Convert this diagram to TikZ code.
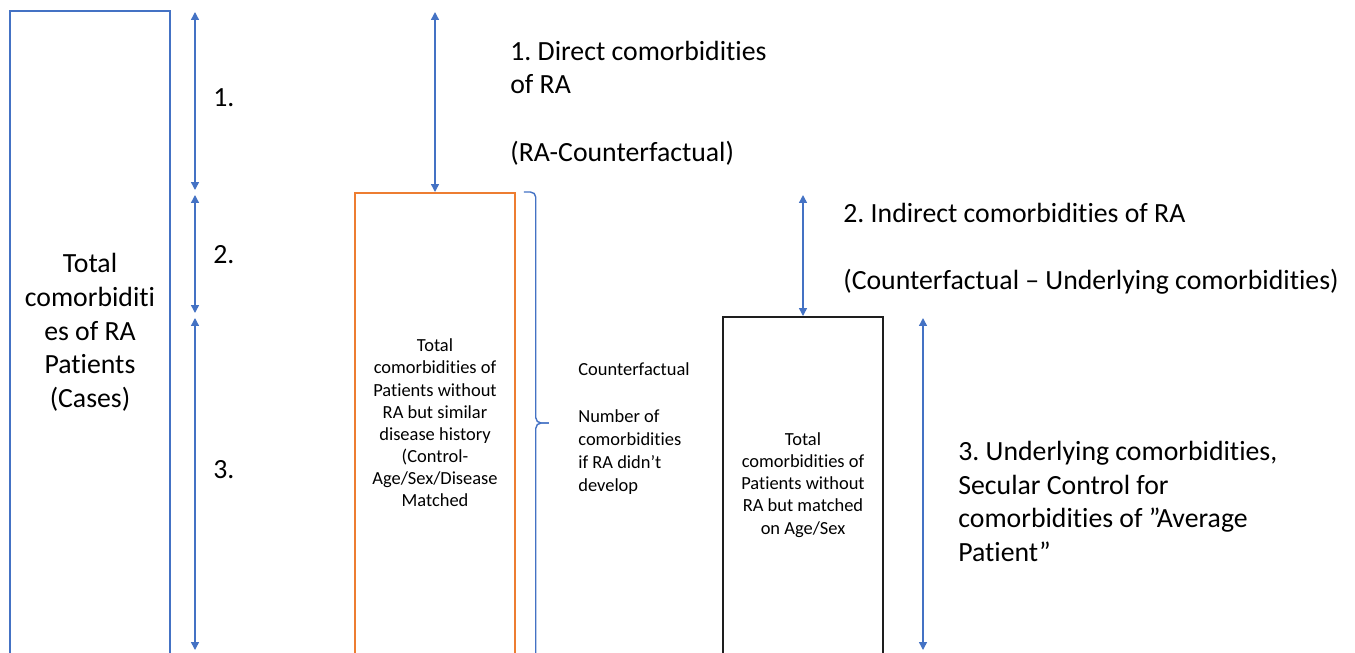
\documentclass[tikz,border=0pt]{standalone}
\usepackage{fontspec}
\setmainfont{Carlito}[RawFeature={-liga;-clig;-dlig}]
\usepackage{tikz}
\usetikzlibrary{arrows.meta, positioning, calc}
\definecolor{armblue}{RGB}{68, 114, 196}
\definecolor{ctrlorange}{RGB}{237, 125, 49}
\definecolor{boxblack}{RGB}{30, 30, 30}
\frenchspacing

\begin{document}
\begin{tikzpicture}[
  bigtxt/.style={font=\fontsize{15.8}{19.2}\selectfont, inner sep=0pt, align=left},
  smalltxt/.style={font=\fontsize{10.5}{12.6}\selectfont, inner sep=0pt, align=center},
  colbox/.style={draw, line width=0.9pt, minimum width=3.2cm, anchor=north, inner sep=0pt},
  span/.style={{Triangle[length=4.5pt,width=4.5pt]}-{Triangle[length=4.5pt,width=4.5pt]}, armblue, line width=0.8pt}
]
  \useasboundingbox (0,0) rectangle (27.1,-13.04);

  % Columns
  \node[colbox, draw=armblue, minimum height=13.2cm] (cases) at (1.8,-0.2) {};
  \node[colbox, draw=ctrlorange, minimum height=9.6cm] (ctrl) at (8.7,-3.84) {};
  \node[colbox, draw=boxblack, minimum height=7cm] (agesex) at (16.06,-6.32) {};

  \node[bigtxt, align=center] (casestxt) at (1.8,-6.65) {Total\\comorbiditi\\es of RA\\Patients\\(Cases)};
  \node[smalltxt] (ctrltxt) at (8.7,-8.46) {Total\\comorbidities of\\Patients without\\RA but similar\\disease history\\(Control-\\Age/Sex/Disease\\Matched};
  \node[smalltxt] (agesextxt) at (16.06,-9.7) {Total\\comorbidities of\\Patients without\\RA but matched\\on Age/Sex};

  % Spans next to the cases
  \coordinate (s1top) at (3.9,-0.24);
  \coordinate (s1bot) at (3.9,-3.8);
  \coordinate (s2top) at (3.9,-3.9);
  \coordinate (s2bot) at (3.9,-6.26);
  \coordinate (s3top) at (3.9,-6.36);
  \coordinate (s3bot) at (3.9,-13.0);
  \draw[span] (s1top) -- (s1bot);
  \draw[span] (s2top) -- (s2bot);
  \draw[span] (s3top) -- (s3bot);
  \node[bigtxt, anchor=west] (n1) at (4.26,-1.96) {1.};
  \node[bigtxt, anchor=west] (n2) at (4.26,-5.1) {2.};
  \node[bigtxt, anchor=west] (n3) at (4.26,-9.4) {3.};

  % Direct comorbidities
  \coordinate (dtop) at (ctrl.north |- s1top);
  \draw[span] (dtop) -- (ctrl.north);
  \node[bigtxt, anchor=west] (direct) at (10.2,-2.06) {1. Direct comorbidities\\of RA\\[19.2pt](RA-Counterfactual)};

  % Counterfactual brace
  \coordinate (btop) at ($(ctrl.north east)+(0.16,0)$);
  \coordinate (bspine) at ($(btop)+(0.24,0)$);
  \coordinate (bmid) at (bspine |- ctrltxt);
  \coordinate (btip) at ($(bmid)+(0.26,0)$);
  \coordinate (bbot) at (bspine |- 0,-13.2);
  \draw[armblue, line width=0.8pt, rounded corners=3pt] (btop) -- (bspine) -- (bmid) -- (btip);
  \draw[armblue, line width=0.8pt, rounded corners=3pt] (btip) -- (bmid) -- (bbot);
  \node[smalltxt, align=left, font=\fontsize{10.5}{13.2}\selectfont, anchor=west] (cftxt) at (11.56,-8.58) {Counterfactual\\[13.2pt]Number of\\comorbidities\\if RA didn’t\\develop};

  % Indirect comorbidities
  \coordinate (itop) at (agesex.north |- s2top);
  \draw[span] (itop) -- (agesex.north);
  \node[bigtxt, anchor=west] (indirect) at (16.86,-4.97) {2. Indirect comorbidities of RA\\[19.2pt](Counterfactual – Underlying comorbidities)};

  % Underlying comorbidities
  \coordinate (utop) at (18.46,-6.36);
  \coordinate (ubot) at (18.46,-13.0);
  \draw[span] (utop) -- (ubot);
  \node[bigtxt, anchor=west] (underlying) at (19.16,-10.03) {3. Underlying comorbidities,\\Secular Control for\\comorbidities of ”Average\\Patient”};
\end{tikzpicture}
\end{document}
